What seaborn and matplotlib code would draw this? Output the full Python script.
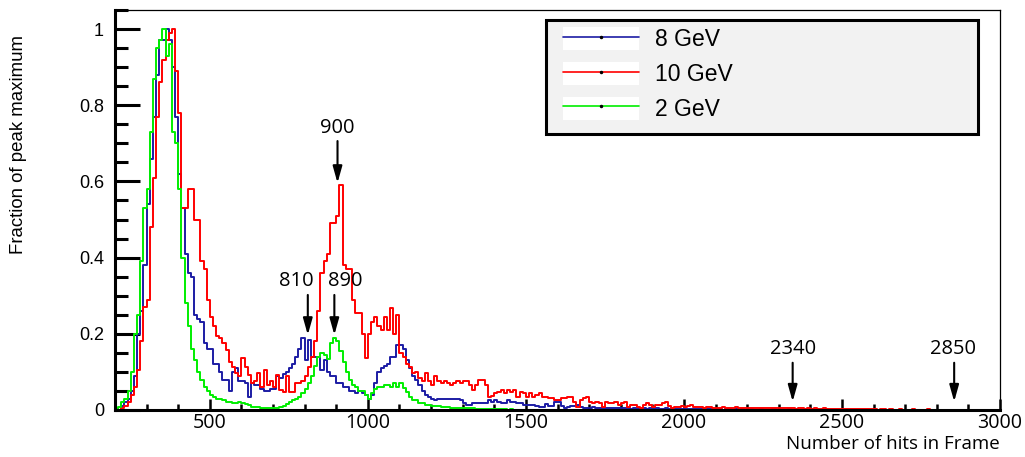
import numpy as np
import pandas as pd
import matplotlib
matplotlib.use('Agg')
import matplotlib.pyplot as plt
import seaborn as sns
from matplotlib.lines import Line2D
from matplotlib.patches import Patch, Rectangle
from matplotlib.ticker import MultipleLocator, FuncFormatter

# histogram bins: 10 hits wide, starting at 200
bin_start = 200
bin_width = 10

# 8 GeV, fraction of peak maximum per bin (200 .. 3000)
hits_8gev = [
    0.00, 0.00, 0.01, 0.02, 0.03, 0.05, 0.09, 0.20, 0.26, 0.38,
    0.54, 0.66, 0.77, 0.88, 0.97, 0.97, 1.00, 0.97, 0.90, 0.77,
    0.62, 0.53, 0.41, 0.36, 0.35, 0.25, 0.24, 0.23, 0.175, 0.16,
    0.16, 0.12, 0.12, 0.10, 0.08, 0.08, 0.05, 0.10, 0.11, 0.075,
    0.075, 0.07, 0.035, 0.07, 0.065, 0.065, 0.055, 0.05, 0.05, 0.055,
    0.055, 0.09, 0.085, 0.095, 0.10, 0.11, 0.12, 0.14, 0.16, 0.19,
    0.13, 0.185, 0.14, 0.14, 0.14, 0.105, 0.13, 0.10, 0.09, 0.09,
    0.07, 0.07, 0.06, 0.06, 0.05, 0.05, 0.045, 0.05, 0.045, 0.04,
    0.03, 0.04, 0.07, 0.10, 0.11, 0.115, 0.12, 0.14, 0.14, 0.17,
    0.17, 0.16, 0.13, 0.11, 0.09, 0.08, 0.065, 0.05, 0.04, 0.035,
    0.03, 0.026, 0.03, 0.03, 0.03, 0.03, 0.03, 0.03, 0.03, 0.026,
    0.018, 0.013, 0.013, 0.018, 0.018, 0.018, 0.018, 0.018, 0.026, 0.022,
    0.026, 0.022, 0.018, 0.018, 0.026, 0.022, 0.022, 0.018, 0.018, 0.013,
    0.013, 0.013, 0.013, 0.01, 0.007, 0.007, 0.015, 0.01, 0.01, 0.02,
    0.02, 0.01, 0.005, 0.008, 0.01, 0.01, 0.012, 0.008, 0.005, 0.006,
    0.005, 0.007, 0.005, 0.004, 0.006, 0.005, 0.004, 0.005, 0.004, 0.005,
    0.004, 0.005, 0.004, 0.003, 0.004, 0.005, 0.003, 0.004, 0.003, 0.004,
    0.003, 0.004, 0.003, 0.003, 0.004, 0.003, 0.002, 0.003, 0.003, 0.002,
    0.003, 0.002, 0.002, 0.003, 0.002, 0.002, 0.003, 0.002, 0.002, 0.002,
    0.002, 0.002, 0.001, 0.002, 0.002, 0.001, 0.002, 0.001, 0.002, 0.001,
    0.001, 0.002, 0.001, 0.001, 0.002, 0.001, 0.001, 0.001, 0.002, 0.001,
    0.001, 0.001, 0.001, 0.002, 0.001, 0.001, 0.001, 0.001, 0.001, 0.001,
    0.001, 0.001, 0.0, 0.001, 0.001, 0.0, 0.001, 0.0, 0.001, 0.0,
    0.0, 0.001, 0.0, 0.0, 0.001, 0.0, 0.0, 0.001, 0.0, 0.0,
    0.0, 0.0, 0.001, 0.0, 0.0, 0.0, 0.0, 0.001, 0.0, 0.0,
    0.0, 0.0, 0.0, 0.0, 0.001, 0.0, 0.0, 0.0, 0.0, 0.0,
    0.0, 0.0, 0.0, 0.0, 0.0, 0.0, 0.001, 0.0, 0.0, 0.0,
    0.0, 0.0, 0.0, 0.0, 0.0, 0.0, 0.0, 0.0, 0.0, 0.0,
]

# 10 GeV
hits_10gev = [
    0.00, 0.00, 0.005, 0.01, 0.02, 0.04, 0.06, 0.105, 0.18, 0.27,
    0.29, 0.48, 0.61, 0.77, 0.86, 0.92, 0.97, 0.99, 1.00, 0.89,
    0.78, 0.53, 0.53, 0.58, 0.58, 0.50, 0.50, 0.39, 0.37, 0.29,
    0.245, 0.22, 0.193, 0.19, 0.176, 0.158, 0.127, 0.114, 0.097, 0.088,
    0.136, 0.114, 0.092, 0.07, 0.075, 0.097, 0.061, 0.105, 0.066, 0.075,
    0.061, 0.092, 0.053, 0.048, 0.088, 0.048, 0.048, 0.07, 0.07, 0.075,
    0.09, 0.114, 0.14, 0.18, 0.26, 0.36, 0.39, 0.41, 0.49, 0.49,
    0.51, 0.59, 0.38, 0.37, 0.37, 0.29, 0.255, 0.255, 0.20, 0.136,
    0.20, 0.232, 0.245, 0.22, 0.21, 0.245, 0.21, 0.268, 0.20, 0.25,
    0.15, 0.14, 0.12, 0.114, 0.097, 0.10, 0.083, 0.075, 0.097, 0.075,
    0.066, 0.088, 0.075, 0.07, 0.075, 0.07, 0.066, 0.07, 0.075, 0.07,
    0.075, 0.075, 0.066, 0.053, 0.066, 0.08, 0.08, 0.066, 0.035, 0.038,
    0.044, 0.048, 0.053, 0.044, 0.053, 0.048, 0.053, 0.035, 0.048, 0.044,
    0.035, 0.044, 0.035, 0.04, 0.044, 0.035, 0.035, 0.031, 0.031, 0.026,
    0.026, 0.031, 0.031, 0.035, 0.035, 0.022, 0.009, 0.026, 0.031, 0.035,
    0.022, 0.018, 0.022, 0.018, 0.009, 0.022, 0.018, 0.018, 0.022, 0.013,
    0.018, 0.022, 0.009, 0.013, 0.013, 0.009, 0.004, 0.013, 0.018, 0.013,
    0.009, 0.013, 0.013, 0.018, 0.022, 0.01, 0.005, 0.007, 0.007, 0.01,
    0.007, 0.01, 0.013, 0.008, 0.007, 0.007, 0.006, 0.008, 0.007, 0.006,
    0.006, 0.005, 0.007, 0.006, 0.005, 0.006, 0.007, 0.005, 0.006, 0.005,
    0.005, 0.006, 0.004, 0.005, 0.006, 0.004, 0.005, 0.004, 0.005, 0.004,
    0.004, 0.005, 0.004, 0.006, 0.004, 0.003, 0.004, 0.005, 0.003, 0.004,
    0.003, 0.004, 0.003, 0.003, 0.004, 0.003, 0.002, 0.003, 0.003, 0.002,
    0.003, 0.002, 0.002, 0.003, 0.002, 0.002, 0.003, 0.002, 0.002, 0.002,
    0.002, 0.001, 0.002, 0.002, 0.001, 0.002, 0.001, 0.001, 0.002, 0.001,
    0.001, 0.001, 0.002, 0.001, 0.001, 0.001, 0.001, 0.002, 0.001, 0.001,
    0.001, 0.001, 0.001, 0.0, 0.001, 0.001, 0.0, 0.001, 0.001, 0.0,
    0.001, 0.0, 0.001, 0.0, 0.0, 0.001, 0.0, 0.0, 0.001, 0.0,
]

# 2 GeV
hits_2gev = [
    0.003, 0.008, 0.02, 0.03, 0.05, 0.10, 0.20, 0.25, 0.39, 0.53,
    0.58, 0.73, 0.87, 0.95, 0.97, 1.00, 0.93, 0.96, 0.73, 0.70,
    0.58, 0.40, 0.28, 0.22, 0.16, 0.13, 0.10, 0.08, 0.06, 0.05,
    0.04, 0.035, 0.03, 0.028, 0.026, 0.022, 0.02, 0.018, 0.018, 0.02,
    0.018, 0.015, 0.012, 0.009, 0.009, 0.008, 0.005, 0.004, 0.004, 0.004,
    0.004, 0.005, 0.008, 0.01, 0.016, 0.02, 0.026, 0.03, 0.035, 0.045,
    0.055, 0.07, 0.09, 0.115, 0.14, 0.15, 0.145, 0.135, 0.175, 0.19,
    0.18, 0.155, 0.125, 0.10, 0.08, 0.065, 0.06, 0.05, 0.05, 0.04,
    0.03, 0.045, 0.055, 0.06, 0.06, 0.065, 0.065, 0.06, 0.07, 0.06,
    0.07, 0.057, 0.048, 0.035, 0.026, 0.026, 0.018, 0.018, 0.013, 0.013,
    0.01, 0.01, 0.01, 0.008, 0.008, 0.007, 0.006, 0.006, 0.005, 0.005,
    0.005, 0.004, 0.004, 0.004, 0.003, 0.003, 0.003, 0.003, 0.002, 0.002,
    0.002, 0.002, 0.002, 0.002, 0.001, 0.002, 0.001, 0.001, 0.001, 0.001,
    0.001, 0.001, 0.001, 0.001, 0.001, 0.0, 0.001, 0.0, 0.001, 0.0,
    0.0, 0.0, 0.001, 0.0, 0.0, 0.0, 0.0, 0.0, 0.0, 0.0,
    0.0, 0.0, 0.0, 0.0, 0.0, 0.0, 0.0, 0.0, 0.0, 0.0,
    0.0, 0.0, 0.0, 0.0, 0.0, 0.0, 0.0, 0.0, 0.0, 0.0,
    0.0, 0.0, 0.0, 0.0, 0.0, 0.0, 0.0, 0.0, 0.0, 0.0,
    0.0, 0.0, 0.0, 0.0, 0.0, 0.0, 0.0, 0.0, 0.0, 0.0,
    0.0, 0.0, 0.0, 0.0, 0.0, 0.0, 0.0, 0.0, 0.0, 0.0,
    0.0, 0.0, 0.0, 0.0, 0.0, 0.0, 0.0, 0.0, 0.0, 0.0,
    0.0, 0.0, 0.0, 0.0, 0.0, 0.0, 0.0, 0.0, 0.0, 0.0,
    0.0, 0.0, 0.0, 0.0, 0.0, 0.0, 0.0, 0.0, 0.0, 0.0,
    0.0, 0.0, 0.0, 0.0, 0.0, 0.0, 0.0, 0.0, 0.0, 0.0,
    0.0, 0.0, 0.0, 0.0, 0.0, 0.0, 0.0, 0.0, 0.0, 0.0,
    0.0, 0.0, 0.0, 0.0, 0.0, 0.0, 0.0, 0.0, 0.0, 0.0,
    0.0, 0.0, 0.0, 0.0, 0.0, 0.0, 0.0, 0.0, 0.0, 0.0,
    0.0, 0.0, 0.0, 0.0, 0.0, 0.0, 0.0, 0.0, 0.0, 0.0,
]

series_labels = ['8 GeV', '10 GeV', '2 GeV']
series_colors = ['#1c1ca4', '#ff0000', '#00ee00']

# marked peaks: label, arrow x, arrow tail y, arrow tip y, label x, label y
peak_labels = ['810', '890', '900', '2340', '2850']
peak_x = [810, 894, 904, 2344, 2855]
peak_tail = [0.302, 0.302, 0.706, 0.124, 0.124]
peak_tip = [0.197, 0.197, 0.596, 0.022, 0.022]
label_x = [775, 929, 904, 2346, 2852]
label_y = [0.312, 0.312, 0.714, 0.134, 0.134]

n_bins = len(hits_8gev)
bin_end = bin_start + bin_width * n_bins
centers = bin_start + bin_width * (np.arange(n_bins) + 0.5)

sns.set_theme(style='ticks')
plt.rcParams['font.family'] = ['Liberation Sans', 'DejaVu Sans']
for key in ['text.color', 'axes.labelcolor', 'xtick.color', 'ytick.color', 'axes.edgecolor']:
    plt.rcParams[key] = 'black'

fig = plt.figure(figsize=(10.25, 4.57), dpi=100)
ax = fig.add_axes([115 / 1025, 1 - 410 / 457, 885 / 1025, 400 / 457])

for vals, col in zip([hits_8gev, hits_10gev, hits_2gev], series_colors):
    df = pd.DataFrame({'hits': centers, 'frac': vals})
    sns.histplot(data=df, x='hits', weights='frac', binwidth=bin_width,
                 binrange=(bin_start, bin_end), element='step', fill=False,
                 color=col, linewidth=1.4, ax=ax)

ax.set_xlim(200, 3000)
ax.set_ylim(0, 1.05)

# axis styling (ROOT-like)
for side in ['left', 'bottom']:
    ax.spines[side].set_linewidth(2.2)
for side in ['top', 'right']:
    ax.spines[side].set_linewidth(0.9)
ax.yaxis.set_major_locator(MultipleLocator(0.2))
ax.yaxis.set_minor_locator(MultipleLocator(0.05))
ax.xaxis.set_major_locator(MultipleLocator(500))
ax.xaxis.set_minor_locator(MultipleLocator(100))
ax.yaxis.set_major_formatter(FuncFormatter(lambda v, p: f'{v:g}'))
ax.tick_params(axis='y', which='major', direction='in', length=18, width=2.2,
               labelsize=13, pad=8, left=True, right=False, colors='black')
ax.tick_params(axis='y', which='minor', direction='in', length=9, width=2.2,
               left=True, right=False, colors='black')
ax.tick_params(axis='x', which='major', direction='in', length=8, width=1.8,
               labelsize=14.2, pad=2, bottom=True, top=False, colors='black')
ax.tick_params(axis='x', which='minor', direction='in', length=4, width=1.8,
               bottom=True, top=False, colors='black')
for lbl in ax.get_xticklabels():
    lbl.set_fontfamily(['Open Sans', 'DejaVu Sans'])

ax.set_xlabel('Number of hits in Frame', fontsize=13.5, family=['Open Sans', 'DejaVu Sans'],
              ha='right', va='top', color='black')
ax.xaxis.set_label_coords(1.0, -0.062)
ax.set_ylabel('Fraction of peak maximum', fontsize=13.4, va='center', ha='center', color='black')
ax.yaxis.set_label_coords(-0.1096, 0.6625)

# peak annotations
for lab, px, ty, hy, lx, ly in zip(peak_labels, peak_x, peak_tail, peak_tip, label_x, label_y):
    ax.annotate('', xy=(px, hy), xytext=(px, ty),
                arrowprops=dict(arrowstyle='-|>,head_length=1.0,head_width=0.28',
                                mutation_scale=10, color='black', lw=1.5,
                                shrinkA=0, shrinkB=0))
    ax.text(lx, ly, lab, ha='center', va='bottom', fontsize=14.5,
            family=['Open Sans', 'DejaVu Sans'], color='black')

# legend box
box = Rectangle((431 / 885, (410 - 134) / 400), 432 / 885, 114 / 400,
                transform=ax.transAxes, facecolor='#f2f2f2', edgecolor='black',
                linewidth=2.2, zorder=5)
ax.add_patch(box)
handles = [(Patch(facecolor='white', edgecolor='none'),
            Line2D([], [], color=c, lw=1.2, marker='o', markersize=1.5,
                   markerfacecolor='black', markeredgecolor='black'))
           for c in series_colors]
leg = ax.legend(handles, series_labels, loc='upper left',
                bbox_to_anchor=((563 - 115) / 885, (410 - 27) / 400),
                frameon=False, fontsize=16.5, handlelength=3.3, handleheight=1.2,
                handletextpad=0.7, labelspacing=0.45, borderpad=0, borderaxespad=0,
                numpoints=1, labelcolor='black')
leg.set_zorder(6)

fig.savefig('out.png', dpi=100)
